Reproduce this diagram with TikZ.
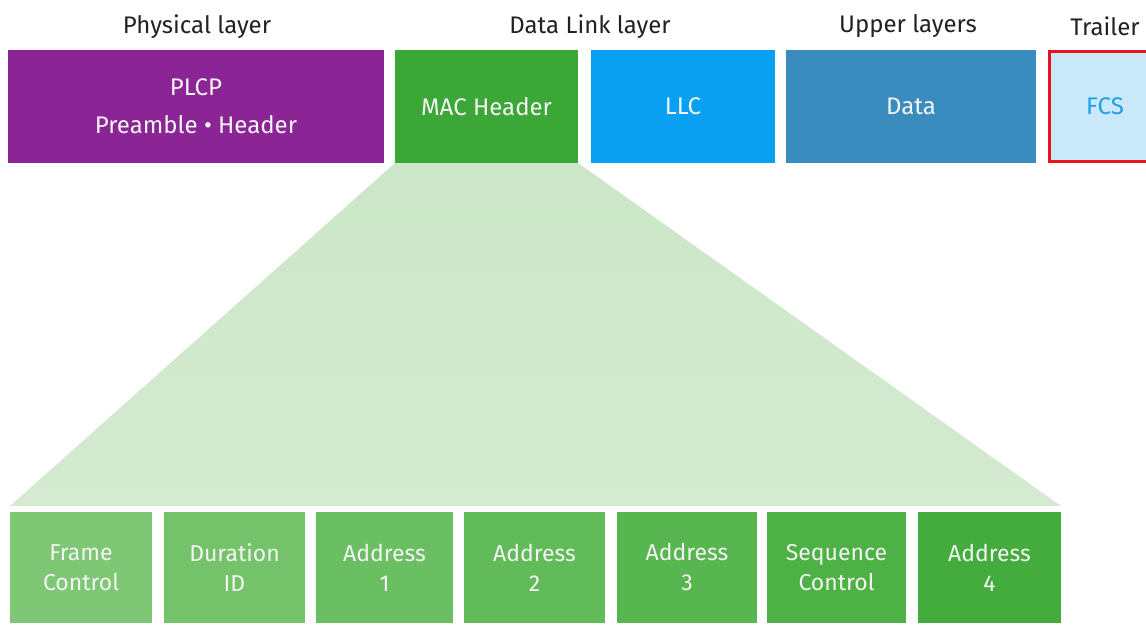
\documentclass[tikz,border=0pt]{standalone}
\usepackage{fontspec}
\setmainfont{Fira Sans}
\definecolor{plcpc}{HTML}{8B2494}
\definecolor{macc}{HTML}{3BA737}
\definecolor{llcc}{HTML}{0AA0F2}
\definecolor{datac}{HTML}{3A8CBF}
\definecolor{fcsfill}{HTML}{C9E8FA}
\definecolor{fcstext}{HTML}{1E9FE8}
\definecolor{fcsred}{HTML}{E8141C}
\definecolor{trap}{HTML}{CCE6C8}
\definecolor{trapb}{HTML}{D4EAD1}
\definecolor{gA}{HTML}{7DC775}
\definecolor{gB}{HTML}{74C36B}
\definecolor{gC}{HTML}{6ABF62}
\definecolor{gD}{HTML}{61BB58}
\definecolor{gE}{HTML}{57B64F}
\definecolor{gF}{HTML}{4DB145}
\definecolor{gG}{HTML}{43AC3C}
\definecolor{labc}{HTML}{222222}
\definecolor{wtext}{HTML}{F4F4F4}
\begin{document}
\begin{tikzpicture}[x=1pt,y=-1pt,
  box/.style={inner sep=0pt, outer sep=0pt, text=wtext, align=center,
    font=\fontsize{24}{38}\selectfont},
  topbox/.style={box, minimum height=113pt},
  field/.style={box, minimum height=111pt, font=\fontsize{23}{30}\selectfont},
  layerlabel/.style={inner sep=0pt, text=labc, font=\fontsize{24}{28}\selectfont}]
\useasboundingbox (0,0) rectangle (1146,626);
\fill[white] (0,0) rectangle (1146,626);

% layer labels
\node[layerlabel] (lphy) at (197,26.5) {Physical layer};
\node[layerlabel] (ldl) at (590,26.5) {Data Link layer};
\node[layerlabel] (lup) at (908,26.5) {Upper layers};
\node[layerlabel] (ltr) at (1105,26.5) {Trailer};

% top row
\node[topbox, fill=plcpc, minimum width=376pt] (plcp) at (196,106.5) {PLCP\\Preamble • Header};
\node[topbox, fill=macc, minimum width=183pt] (mac) at (486.5,106.5) {MAC Header};
\node[topbox, fill=llcc, minimum width=184pt] (llc) at (683,106.5) {LLC};
\node[topbox, fill=datac, minimum width=250pt] (data) at (911,106.5) {Data};
\node[topbox, fill=fcsfill, draw=fcsred, line width=3pt, text=fcstext, minimum width=112pt, minimum height=110pt] (fcs) at (1105,106.5) {FCS};

% bottom row
\node[field, fill=gA, minimum width=142pt] (fc) at (81,567.5) {\rule{0pt}{4pt}Frame\\Control};
\node[field, fill=gB, minimum width=141pt] (di) at (234.5,567.5) {\rule{0pt}{4pt}Duration\\ID};
\node[field, fill=gC, minimum width=137pt] (a1) at (384.5,567.5) {\rule{0pt}{4pt}Address\\1};
\node[field, fill=gD, minimum width=141pt] (a2) at (534.5,567.5) {\rule{0pt}{4pt}Address\\2};
\node[field, fill=gE, minimum width=140pt] (a3) at (687,567.5) {\rule{0pt}{4pt}Address\\3};
\node[field, fill=gF, minimum width=139pt] (sc) at (836.5,567.5) {\rule{0pt}{4pt}Sequence\\Control};
\node[field, fill=gG, minimum width=143pt] (a4) at (989.5,567.5) {\rule{0pt}{4pt}Address\\4};

% expansion trapezoid
\shade[top color=trap, bottom color=trapb]
  (mac.south west) -- (mac.south east)
  -- ([yshift=6pt]a4.north east) -- ([yshift=6pt]fc.north west) -- cycle;
\end{tikzpicture}
\end{document}
